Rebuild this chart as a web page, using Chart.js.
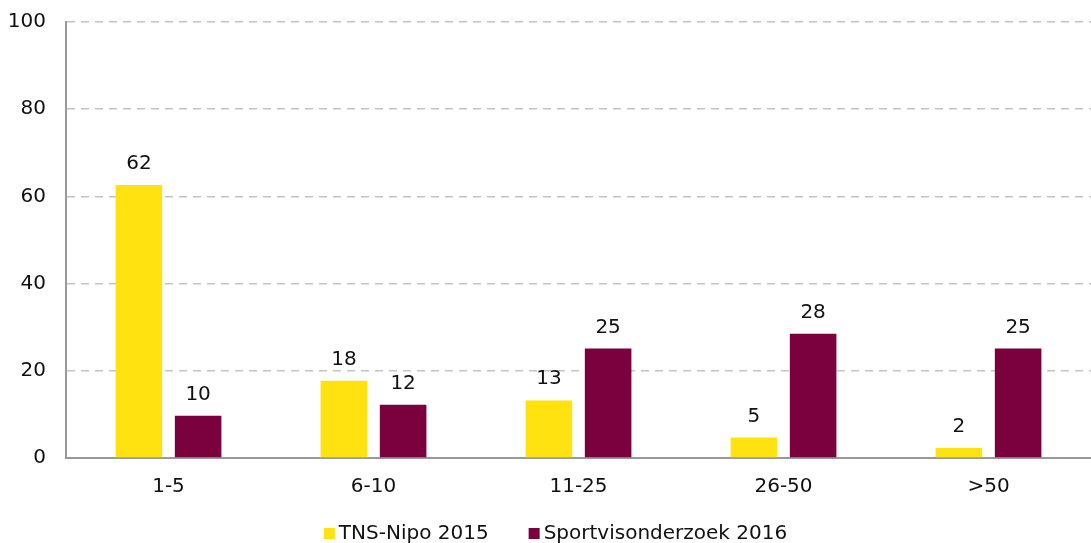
<!DOCTYPE html>
<html>
<head>
<meta charset="utf-8">
<script src="https://cdn.jsdelivr.net/npm/chart.js@4/dist/chart.umd.min.js"></script>
<style>
  html, body { margin: 0; padding: 0; background: #fff; }
  #wrap { width: 1091px; height: 543px; position: relative; }
</style>
</head>
<body>
<div id="wrap"><canvas id="c" width="1091" height="543"></canvas></div>
<script>
const categories = ['1-5', '6-10', '11-25', '26-50', '>50'];
const seriesNames = ['TNS-Nipo 2015', 'Sportvisonderzoek 2016'];
const tnsValues = [62.6, 17.7, 13.2, 4.7, 2.3];
const sportValues = [9.7, 12.2, 25.1, 28.5, 25.1];
const tnsLabels = ['62', '18', '13', '5', '2'];
const sportLabels = ['10', '12', '25', '28', '25'];
const yTicks = [0, 20, 40, 60, 80, 100];

const FONT = "'DejaVu Sans', sans-serif";
const colors = ['#FFE210', '#7B003E'];

const valueLabelPlugin = {
  id: 'valueLabels',
  afterDatasetsDraw(chart) {
    const ctx = chart.ctx;
    const labelSets = [tnsLabels, sportLabels];
    ctx.save();
    ctx.font = '20px ' + FONT;
    ctx.fillStyle = '#111';
    ctx.textAlign = 'center';
    ctx.textBaseline = 'alphabetic';
    chart.data.datasets.forEach((ds, di) => {
      const meta = chart.getDatasetMeta(di);
      meta.data.forEach((bar, i) => {
        ctx.fillText(labelSets[di][i], bar.x, bar.y - 16);
      });
    });
    ctx.restore();
  }
};

const legendPlugin = {
  id: 'customLegend',
  afterDraw(chart) {
    const ctx = chart.ctx;
    ctx.save();
    ctx.font = '20px ' + FONT;
    const box = 11, gap = 4, between = 40;
    const items = chart.data.datasets.map(ds => ({ label: ds.label, color: ds.backgroundColor }));
    let total = 0;
    items.forEach((it, i) => {
      it.w = ctx.measureText(it.label).width;
      total += box + gap + it.w + (i < items.length - 1 ? between : 0);
    });
    let x = (chart.width - total) / 2 + 10;
    const baseline = 539;
    ctx.textBaseline = 'alphabetic';
    ctx.textAlign = 'left';
    items.forEach(it => {
      ctx.fillStyle = it.color;
      ctx.fillRect(x, baseline - box, box, box);
      ctx.fillStyle = '#111';
      ctx.fillText(it.label, x + box + gap, baseline);
      x += box + gap + it.w + between;
    });
    ctx.restore();
  }
};

new Chart(document.getElementById('c'), {
  type: 'bar',
  data: {
    labels: categories,
    datasets: [
      { label: seriesNames[0], data: tnsValues, backgroundColor: colors[0] },
      { label: seriesNames[1], data: sportValues, backgroundColor: colors[1] }
    ]
  },
  options: {
    responsive: false,
    animation: false,
    devicePixelRatio: 1,
    layout: { padding: { top: 22, right: 0, bottom: 0, left: 0 } },
    datasets: { bar: { barPercentage: 0.786, categoryPercentage: 0.578 } },
    plugins: { legend: { display: false }, tooltip: { enabled: false } },
    scales: {
      x: {
        grid: { display: false },
        border: { display: true, color: '#999', width: 2 },
        ticks: { color: '#111', font: { family: FONT, size: 20 }, padding: 9, maxRotation: 0 },
        afterFit(scale) { scale.height = 85; scale.paddingLeft = 0; scale.paddingRight = 0; }
      },
      y: {
        min: 0, max: 100,
        afterBuildTicks(scale) { scale.ticks = yTicks.map(v => ({ value: v })); },
        grid: { color: '#c4c4c4', lineWidth: 1.5, drawTicks: false },
        border: { display: true, color: '#999', width: 2, dash: [8, 6] },
        ticks: { color: '#111', font: { family: FONT, size: 20 }, padding: 20 },
        afterFit(scale) { scale.width = 66; scale.paddingTop = 0; scale.paddingBottom = 0; }
      }
    }
  },
  plugins: [valueLabelPlugin, legendPlugin]
});
</script>
</body>
</html>
